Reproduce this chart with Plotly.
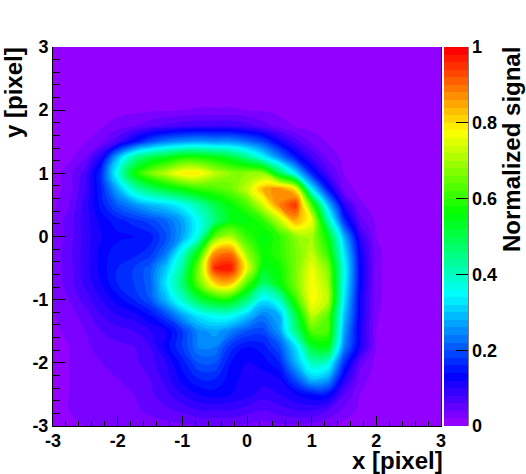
import colorsys
import plotly.graph_objects as go

# grille lue sur l'image, pas de 0.25
x_vals = [-3, -2.75, -2.5, -2.25, -2, -1.75, -1.5, -1.25, -1, -0.75, -0.5, -0.25, 0,
          0.25, 0.5, 0.75, 1, 1.25, 1.5, 1.75, 2, 2.25, 2.5, 2.75, 3]
y_vals = [-3, -2.75, -2.5, -2.25, -2, -1.75, -1.5, -1.25, -1, -0.75, -0.5, -0.25, 0,
          0.25, 0.5, 0.75, 1, 1.25, 1.5, 1.75, 2, 2.25, 2.5, 2.75, 3]

# lignes du haut (y=3) vers le bas (y=-3)
signal_rows = [
    [.01, .01, .01, .01, .01, .01, .01, .01, .01, .01, .01, .01, .01, .01, .01, .01, .01, .01, .01, .01, .01, .01, .01, .01, .01],
    [.01, .01, .01, .01, .01, .01, .01, .01, .01, .01, .01, .01, .01, .01, .01, .01, .01, .01, .01, .01, .01, .01, .01, .01, .01],
    [.01, .01, .01, .01, .01, .01, .01, .01, .01, .01, .01, .01, .01, .01, .01, .01, .01, .01, .01, .01, .01, .01, .01, .01, .01],
    [.01, .01, .01, .01, .01, .01, .01, .01, .01, .01, .01, .01, .01, .01, .01, .01, .01, .01, .01, .01, .01, .01, .01, .01, .01],
    [.01, .01, .01, .01, .012, .014, .016, .018, .02, .022, .022, .022, .02, .018, .014, .012, .01, .01, .01, .01, .01, .01, .01, .01, .01],
    [.01, .01, .012, .018, .03, .04, .055, .065, .075, .08, .08, .08, .07, .05, .03, .018, .012, .01, .01, .01, .01, .01, .01, .01, .01],
    [.01, .012, .018, .035, .075, .14, .2, .24, .26, .27, .26, .26, .23, .19, .12, .07, .035, .018, .012, .01, .01, .01, .01, .01, .01],
    [.01, .015, .04, .11, .29, .43, .5, .54, .58, .58, .56, .52, .45, .35, .25, .15, .08, .035, .014, .01, .01, .01, .01, .01, .01],
    [.01, .03, .07, .17, .37, .56, .66, .72, .79, .79, .72, .68, .68, .68, .5, .33, .16, .07, .02, .01, .01, .01, .01, .01, .01],
    [.01, .03, .08, .16, .28, .4, .47, .52, .56, .6, .62, .65, .72, .84, .88, .79, .34, .15, .03, .012, .01, .01, .01, .01, .01],
    [.015, .04, .09, .15, .21, .25, .29, .31, .35, .42, .5, .56, .62, .74, .88, .95, .62, .3, .1, .025, .01, .01, .01, .01, .01],
    [.02, .05, .09, .13, .15, .17, .19, .22, .27, .36, .46, .55, .55, .6, .72, .85, .76, .42, .17, .05, .015, .01, .01, .01, .01],
    [.02, .05, .09, .12, .135, .14, .15, .2, .27, .38, .64, .7, .6, .55, .6, .68, .7, .55, .28, .09, .02, .01, .01, .01, .01],
    [.025, .055, .09, .13, .15, .15, .17, .23, .37, .56, .86, .89, .68, .56, .6, .66, .72, .6, .33, .12, .025, .01, .01, .01, .01],
    [.025, .05, .09, .13, .16, .18, .21, .3, .43, .66, .96, .98, .76, .54, .57, .66, .76, .67, .36, .13, .025, .01, .01, .01, .01],
    [.025, .05, .085, .12, .16, .18, .21, .33, .46, .64, .8, .82, .62, .47, .55, .66, .78, .7, .35, .13, .025, .01, .01, .01, .01],
    [.02, .04, .07, .1, .13, .16, .2, .29, .39, .5, .56, .56, .46, .33, .4, .6, .78, .72, .33, .12, .025, .01, .01, .01, .01],
    [.018, .03, .05, .08, .1, .11, .14, .19, .27, .33, .36, .36, .3, .24, .28, .5, .72, .64, .3, .12, .022, .01, .01, .01, .01],
    [.015, .025, .04, .06, .07, .08, .1, .12, .18, .25, .27, .24, .2, .19, .26, .45, .63, .62, .27, .11, .02, .01, .01, .01, .01],
    [.015, .02, .035, .05, .055, .06, .08, .13, .18, .24, .24, .17, .14, .15, .2, .32, .52, .54, .24, .11, .02, .01, .01, .01, .01],
    [.012, .02, .03, .04, .05, .055, .07, .1, .15, .2, .2, .14, .12, .13, .16, .28, .4, .38, .17, .05, .012, .01, .01, .01, .01],
    [.012, .02, .03, .035, .04, .05, .06, .09, .13, .16, .16, .13, .11, .11, .12, .2, .3, .27, .11, .03, .01, .01, .01, .01, .01],
    [.012, .02, .03, .03, .035, .04, .055, .075, .1, .12, .13, .12, .11, .09, .1, .12, .14, .14, .06, .02, .01, .01, .01, .01, .01],
    [.012, .02, .022, .025, .03, .035, .045, .055, .065, .08, .08, .08, .07, .06, .07, .08, .08, .06, .035, .015, .01, .01, .01, .01, .01],
    [.012, .015, .02, .022, .025, .028, .03, .032, .035, .038, .04, .038, .035, .03, .035, .035, .03, .022, .012, .01, .01, .01, .01, .01, .01],
]

axis_ticks = [-3, -2, -1, 0, 1, 2, 3]
axis_labels = ["-3", "-2", "-1", "0", "1", "2", "3"]
bar_ticks = [0, 0.2, 0.4, 0.6, 0.8, 1]
bar_labels = ["0", "0.2", "0.4", "0.6", "0.8", "1"]

FONT = "Liberation Sans, Arial, sans-serif"
W, H = 526, 474
LEFT, RIGHT, TOP, BOTTOM = 53, 441, 47, 426


# palette arc-en-ciel a 50 niveaux
def palette(n=50):
    echelle = []
    for i in range(n):
        hue = (280 - (i + 1) * 280 / n) / 360
        r, g, b = colorsys.hls_to_rgb(hue, 0.5, 1)
        couleur = f"rgb({round(r * 255)},{round(g * 255)},{round(b * 255)})"
        echelle.append([i / (n - 1), couleur])
    return echelle


fig = go.Figure(go.Contour(
    x=x_vals,
    y=y_vals,
    z=signal_rows[::-1],
    zmin=0,
    zmax=1,
    autocontour=False,
    contours=dict(start=0.02, end=0.98, size=0.02, coloring="fill", showlines=False),
    line=dict(width=0, smoothing=1.3),
    colorscale=palette(),
    colorbar=dict(
        thickness=24,
        len=1,
        y=0.5,
        x=1,
        xanchor="left",
        xpad=3,
        ypad=0,
        outlinewidth=0,
        ticks="inside",
        ticklen=12,
        tickwidth=1,
        tickcolor="black",
        tickvals=bar_ticks,
        ticktext=bar_labels,
        tickfont=dict(family=FONT, size=18, color="black", weight="bold"),
    ),
))

fig.update_layout(
    width=W,
    height=H,
    margin=dict(l=LEFT, r=W - RIGHT, t=TOP, b=H - BOTTOM),
    paper_bgcolor="white",
    plot_bgcolor="white",
    font=dict(family=FONT, color="black"),
)

fig.update_xaxes(
    range=[-3, 3],
    tickvals=axis_ticks,
    ticktext=axis_labels,
    ticks="inside",
    ticklen=10,
    tickcolor="black",
    tickfont=dict(family=FONT, size=18, color="black", weight="bold"),
    ticklabelstandoff=-2,
    minor=dict(ticks="inside", ticklen=5, dtick=0.2, tickcolor="black", showgrid=False),
    showgrid=False,
    zeroline=False,
    showline=True,
    linecolor="black",
    linewidth=1,
)
fig.update_yaxes(
    range=[-3, 3],
    tickvals=axis_ticks,
    ticktext=axis_labels,
    ticks="inside",
    ticklen=13,
    tickcolor="black",
    tickfont=dict(family=FONT, size=18, color="black", weight="bold"),
    minor=dict(ticks="inside", ticklen=7, dtick=0.2, tickcolor="black", showgrid=False),
    showgrid=False,
    zeroline=False,
    showline=True,
    mirror=True,
    linecolor="black",
    linewidth=1,
)

# titres alignes en bout d'axe
titre = dict(family=FONT, size=24, color="black", weight="bold")
fig.add_annotation(text="x [pixel]", xref="paper", yref="paper", x=1, y=0,
                   xanchor="right", yanchor="top", yshift=-20, xshift=3, borderpad=0, showarrow=False, font=titre)
fig.add_annotation(text="y [pixel]", xref="paper", yref="paper", x=0, y=1,
                   xanchor="right", yanchor="top", xshift=-24, yshift=2, textangle=-90, showarrow=False, font=titre)
fig.add_annotation(text="Normalized signal", xref="paper", yref="paper", x=1, y=1,
                   xanchor="left", yanchor="top", xshift=55, yshift=2, textangle=-90, showarrow=False, font=titre)

# bord droit de la palette
fig.add_shape(type="line", xref="paper", yref="paper", x0=(468 - LEFT) / (RIGHT - LEFT),
              x1=(468 - LEFT) / (RIGHT - LEFT), y0=0, y1=1, line=dict(color="black", width=1))

# pas de marge du navigateur autour du graphique
fig.write_html("out.html", config={"displayModeBar": False},
               post_script="document.body.style.margin='0';")
